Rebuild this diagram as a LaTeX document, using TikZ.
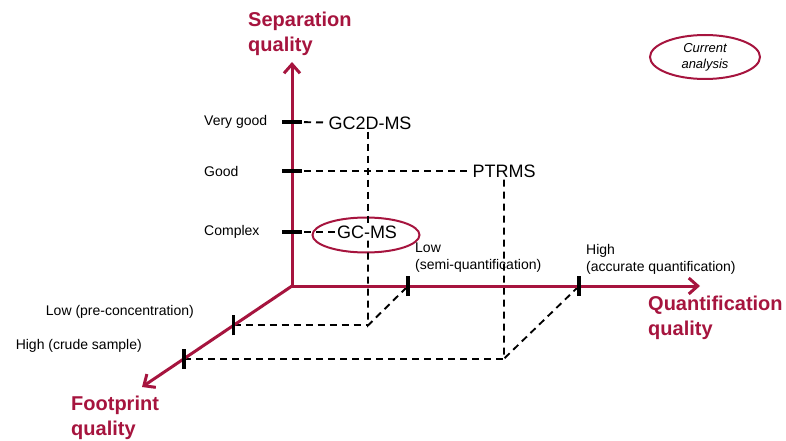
\documentclass[tikz,border=0pt]{standalone}
\usepackage{fontspec}
\setmainfont{Liberation Sans}
\usetikzlibrary{arrows.meta,shapes.geometric,calc}
\definecolor{axisred}{RGB}{166,20,62}

\begin{document}
\begin{tikzpicture}[>={Straight Barb[length=9pt,width=16pt]}, x=1pt, y=-1pt,
  axis/.style={axisred, line width=3pt},
  tick/.style={black, line width=3.5pt},
  guide/.style={black, line width=1.9pt, dash pattern=on 7pt off 5pt},
  level/.style={font=\fontsize{14}{17}\selectfont, inner sep=0pt, align=left},
  axislabel/.style={axisred, font=\fontsize{20}{25}\selectfont\bfseries, inner sep=0pt, align=left},
  method/.style={font=\fontsize{18}{20}\selectfont, inner sep=2pt},
  ring/.style={ellipse, draw=axisred, line width=2pt}]

\useasboundingbox (0,0) rectangle (786,441);

% axes
\coordinate (O) at (292,286);
\coordinate (sepEnd) at (292,62);
\coordinate (quantEnd) at (700,286);
\coordinate (footEnd) at (142,387);

% levels on the axes
\coordinate (sepVG) at (292,122);
\coordinate (sepG) at (292,171);
\coordinate (sepC) at (292,232);
\coordinate (quantLow) at (408,286);
\coordinate (quantHigh) at (579,286);
\coordinate (footLow) at ($(O)!0.39!(footEnd)$);
\coordinate (footHigh) at ($(O)!0.72!(footEnd)$);

% methods
\node[method] (gc2d) at (370,123) {GC2D-MS};
\node[method] (ptrms) at (504,171) {PTRMS};
\node[method] (gcms) at (367,232) {GC-MS};
\node[ring, minimum width=107pt, minimum height=35pt] (gcmsRing) at (366,235) {};

\coordinate (lowCorner) at (368,0 |- footLow);
\coordinate (highCorner) at (ptrms.south |- footHigh);

\draw[guide] (sepVG) -- (gc2d);
\draw[guide] (sepG) -- (ptrms);
\draw[guide] (sepC) -- (gcms);
\draw[guide] (gc2d.south -| lowCorner) -- (gcms.north -| lowCorner);
\draw[guide] (gcms.south -| lowCorner) -- (lowCorner) -- (quantLow);
\draw[guide] (footLow) -- (lowCorner);
\draw[guide] (ptrms) -- (highCorner) -- (quantHigh);
\draw[guide] (footHigh) -- (highCorner);

\draw[axis, <->] (sepEnd) -- (O) -- (quantEnd);
\draw[axis, ->] (O) -- (footEnd);

\foreach \lvl in {sepVG,sepG,sepC}
  \draw[tick] ([xshift=-10pt]\lvl) -- ([xshift=10pt]\lvl);
\foreach \lvl in {quantLow,quantHigh,footLow,footHigh}
  \draw[tick] ([yshift=-10pt]\lvl) -- ([yshift=10pt]\lvl);

% level labels
\node[level, anchor=west] (vgLabel) at (204,122) {Very good};
\node[level, anchor=west] (gLabel) at (204,171) {Good};
\node[level, anchor=west] (cLabel) at (204,232) {Complex};
\node[level, anchor=east] (flLabel) at (194,312) {Low (pre-concentration)};
\node[level, anchor=east] (fhLabel) at (142,346) {High (crude sample)};
\node[level, anchor=west] (qlLabel) at (415,258) {Low\\(semi-quantification)};
\node[level, anchor=west] (qhLabel) at (586,259) {High\\(accurate quantification)};

% axis labels
\node[axislabel, anchor=west] (sepLabel) at (248,34) {Separation\\quality};
\node[axislabel, anchor=west] (quantLabel) at (648,318) {Quantification\\quality};
\node[axislabel, anchor=west] (footLabel) at (71,418) {Footprint\\quality};

% legend
\node[ring, minimum width=110pt, minimum height=44pt, inner sep=0pt, align=center,
  font=\fontsize{13}{16}\selectfont\itshape] (legend) at (705,57) {Current\\analysis};

\end{tikzpicture}
\end{document}
